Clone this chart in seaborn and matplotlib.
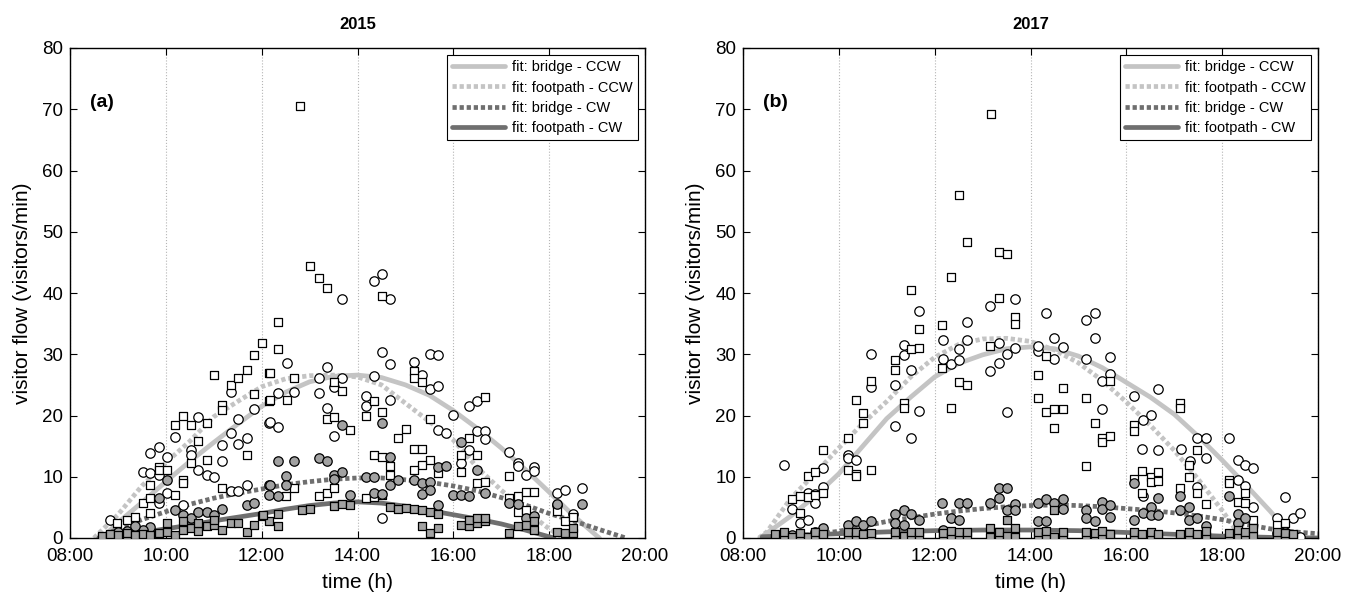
import numpy as np
import pandas as pd
import seaborn as sns
import matplotlib.pyplot as plt

# time in decimal hours, flow in visitors/min

# ---- 2015 ----
pts15_bridge_ccw = [(8.84, 2.9), (9.52, 10.8), (9.68, 13.8), (9.85, 14.8), (9.67, 10.6), (9.85, 10.3),
    (10.02, 13.3), (9.85, 5.7), (10.02, 7.4), (10.19, 16.5), (10.35, 5.4), (10.52, 14.4), (10.52, 13.6),
    (10.68, 19.8), (10.68, 11.1), (10.85, 10.3), (11.0, 9.9), (11.18, 15.2), (11.18, 12.5), (11.35, 23.9),
    (11.35, 17.2), (11.51, 19.5), (11.51, 15.3), (11.69, 16.3), (11.84, 21.1), (12.15, 18.8), (11.35, 7.6),
    (11.51, 7.6), (11.69, 8.7), (12.53, 28.5), (12.68, 23.9), (12.35, 23.7), (12.18, 18.9), (12.35, 18.2),
    (13.36, 27.9), (13.19, 26.1), (13.19, 23.6), (13.67, 39.1), (13.67, 26.1), (13.52, 24.7), (13.36, 21.2),
    (13.52, 16.7), (14.34, 41.9), (14.51, 43.1), (14.68, 39.0), (14.51, 30.3), (14.68, 28.4), (14.34, 26.5),
    (14.18, 23.2), (14.18, 21.6), (14.68, 22.5), (15.17, 28.8), (15.52, 30.1), (15.68, 29.8), (15.35, 26.6),
    (15.52, 24.4), (15.68, 24.8), (16.0, 20.1), (15.68, 17.6), (15.85, 17.2), (14.51, 3.2), (16.33, 21.6),
    (16.5, 22.3), (16.5, 17.4), (16.67, 17.5), (16.67, 16.1), (16.33, 14.4), (16.17, 12.2), (17.17, 14.1),
    (17.34, 12.2), (17.34, 11.8), (17.52, 10.3), (17.68, 11.6), (17.68, 11.0), (18.16, 7.3), (18.33, 7.9),
    (18.68, 8.2), (18.16, 5.4), (18.5, 4.0)]

pts15_foot_ccw = [(8.99, 2.5), (9.18, 2.9), (9.35, 3.5), (9.52, 5.7), (9.68, 6.6), (9.68, 4.1), (9.85, 11.6),
    (9.85, 11.1), (10.02, 11.1), (9.68, 8.7), (10.19, 18.4), (10.35, 19.9), (10.52, 18.4), (10.85, 18.7),
    (10.68, 15.9), (10.52, 12.2), (10.85, 12.8), (10.35, 9.4), (10.35, 8.9), (10.19, 7.0), (11.0, 26.6),
    (11.18, 21.7), (11.18, 20.9), (11.35, 25.0), (11.51, 26.1), (11.69, 27.4), (11.84, 29.9), (12.0, 31.8),
    (11.84, 23.5), (11.69, 13.6), (12.15, 27.0), (12.15, 22.4), (11.18, 8.1), (12.8, 70.5), (13.01, 44.4),
    (13.19, 42.5), (13.36, 40.8), (12.35, 35.3), (12.35, 30.9), (12.18, 27.0), (12.68, 26.2), (12.18, 22.5),
    (12.53, 22.6), (13.52, 25.4), (13.67, 24.0), (13.36, 19.5), (13.52, 19.7), (13.84, 17.7), (14.51, 39.5),
    (15.17, 27.2), (15.17, 26.1), (15.35, 25.4), (14.34, 22.4), (14.18, 19.9), (14.51, 20.5), (14.84, 16.3),
    (15.01, 17.8), (15.52, 19.5), (15.17, 14.5), (15.35, 14.5), (14.34, 13.6), (14.51, 13.3), (14.68, 11.8),
    (14.68, 10.3), (15.52, 12.8), (15.35, 11.9), (15.17, 11.1), (15.68, 10.6), (12.51, 6.9), (12.68, 8.1),
    (13.19, 6.9), (13.36, 7.4), (13.52, 8.1), (14.18, 6.5), (14.34, 6.7), (14.51, 7.0), (16.33, 16.3),
    (16.17, 13.6), (16.17, 10.8), (16.5, 13.6), (16.5, 8.9), (16.67, 9.1), (16.67, 23.1), (17.17, 10.1),
    (17.17, 6.5), (17.34, 6.9), (17.52, 7.5), (17.68, 7.5), (17.34, 4.3), (17.52, 4.5), (18.16, 4.4),
    (18.33, 2.8), (18.5, 3.5)]

pts15_bridge_cw = [(10.02, 9.4), (10.19, 4.6), (10.35, 3.8), (10.52, 3.2), (10.68, 4.2), (10.85, 4.2),
    (11.0, 3.8), (11.18, 4.8), (11.69, 5.4), (11.84, 5.7), (12.15, 8.7), (12.15, 7.0), (9.68, 1.8), (9.52, 1.3),
    (9.85, 6.5), (12.35, 12.6), (12.68, 12.5), (13.19, 13.0), (13.36, 12.5), (12.51, 10.1), (12.18, 8.7),
    (12.35, 6.9), (12.51, 8.7), (13.52, 10.3), (13.67, 10.7), (13.52, 9.7), (14.18, 9.9), (14.34, 10.0),
    (14.68, 13.3), (14.68, 8.7), (14.34, 7.3), (14.51, 7.2), (14.84, 9.5), (15.17, 9.5), (15.35, 8.9),
    (15.52, 9.2), (15.68, 11.6), (15.85, 11.8), (15.35, 7.2), (15.52, 7.8), (16.0, 7.0), (15.68, 5.4),
    (14.51, 18.7), (13.67, 18.4), (16.17, 15.7), (16.5, 11.1), (16.17, 7.1), (16.33, 6.9), (16.67, 7.4),
    (17.17, 5.7), (17.34, 5.6), (18.68, 5.6), (18.16, 5.5), (17.52, 3.2), (17.68, 3.6), (13.84, 7.0),
    (9.0, 1.0), (9.18, 1.2), (9.35, 2.0)]

pts15_foot_cw = [(8.67, 0.1), (8.67, 0.4), (8.84, 0.2), (8.84, 0.6), (9.0, 0.5), (9.18, 0.2), (9.18, 0.8),
    (9.35, 0.5), (9.52, 0.7), (9.68, 0.5), (9.85, 0.8), (10.02, 0.9), (10.19, 0.5), (10.35, 1.3), (10.52, 1.6),
    (10.68, 1.1), (10.85, 1.9), (11.0, 2.1), (11.18, 1.3), (11.35, 2.4), (11.51, 2.4), (11.69, 1.0),
    (11.84, 2.1), (12.0, 3.6), (12.15, 2.7), (10.02, 2.5), (10.35, 2.8), (10.68, 2.4), (11.0, 3.0),
    (12.35, 1.9), (12.03, 3.8), (12.35, 3.9), (12.84, 4.5), (13.01, 4.7), (13.52, 5.2), (13.67, 5.5),
    (13.84, 5.4), (14.68, 5.0), (14.84, 4.8), (15.01, 4.9), (15.17, 4.8), (15.35, 4.5), (15.35, 1.9),
    (15.52, 0.8), (15.68, 1.6), (15.52, 4.2), (15.68, 4.0), (16.17, 2.1), (16.33, 1.9), (16.5, 2.4),
    (16.67, 2.7), (16.33, 3.0), (16.5, 3.2), (16.67, 3.2), (17.17, 0.8), (17.34, 1.9), (17.52, 2.1),
    (17.68, 1.3), (17.68, 2.7), (18.16, 1.0), (18.33, 0.8), (18.5, 0.8), (18.5, 1.7)]

fit15_bridge_ccw = [(8.67, 0), (9.0, 2.5), (9.5, 5.8), (10.0, 9.2), (10.5, 12.5), (11.0, 15.6), (11.5, 18.6),
    (12.0, 21.5), (12.5, 23.8), (13.0, 25.5), (13.5, 26.4), (14.0, 26.6), (14.5, 26.2), (15.0, 25.0),
    (15.5, 23.3), (16.0, 20.8), (16.5, 17.9), (17.0, 14.7), (17.5, 11.2), (18.0, 7.5), (18.5, 3.7),
    (19.0, 0.3), (19.05, 0)]
fit15_foot_ccw = [(8.5, 0), (9.0, 3.8), (9.5, 8.5), (10.0, 12.3), (10.5, 15.8), (11.0, 19.8), (11.5, 22.3),
    (12.0, 24.7), (12.5, 26.0), (13.0, 26.5), (13.5, 26.6), (14.0, 26.3), (14.5, 25.0), (15.0, 22.0),
    (15.5, 19.0), (16.0, 16.0), (16.5, 11.5), (17.0, 7.8), (17.5, 4.5), (18.0, 1.5), (18.3, 0)]
fit15_bridge_cw = [(8.6, 0), (9.0, 1.5), (9.5, 3.0), (10.0, 4.3), (10.5, 5.5), (11.0, 6.5), (11.5, 7.3),
    (12.0, 8.0), (12.5, 8.7), (13.0, 9.2), (13.5, 9.6), (14.0, 9.8), (14.5, 9.8), (15.0, 9.5), (15.5, 9.1),
    (16.0, 8.5), (16.5, 7.7), (17.0, 6.6), (17.5, 5.4), (18.0, 4.0), (18.5, 2.8), (19.0, 1.5), (19.6, 0)]
fit15_foot_cw = [(8.6, 0), (9.0, 0.4), (9.5, 0.9), (10.0, 1.5), (10.5, 2.1), (11.0, 2.8), (11.5, 3.4),
    (12.0, 4.0), (12.5, 4.7), (13.0, 5.3), (13.5, 5.7), (14.0, 5.9), (14.5, 5.7), (15.0, 5.2), (15.5, 4.5),
    (16.0, 3.8), (16.5, 3.1), (17.0, 2.3), (17.5, 1.3), (18.0, 0.2), (18.1, 0)]

# ---- 2017 ----
pts17_bridge_ccw = [(8.85, 11.9), (9.02, 4.7), (9.18, 2.5), (9.35, 2.9), (9.35, 7.3), (9.51, 7.2), (9.51, 5.7),
    (9.68, 8.4), (9.68, 11.4), (10.19, 13.6), (10.19, 13.0), (10.35, 12.7), (10.67, 30.0), (10.67, 24.7),
    (11.18, 25.0), (11.18, 18.3), (11.35, 31.5), (11.35, 29.9), (11.51, 27.4), (11.51, 16.3), (11.68, 37.0),
    (11.68, 20.7), (12.18, 32.3), (12.18, 29.2), (12.34, 28.4), (12.51, 29.1), (12.51, 30.8), (12.68, 32.3),
    (12.68, 35.2), (13.16, 37.8), (13.16, 27.3), (13.34, 28.5), (13.51, 30.0), (13.67, 31.0), (13.67, 39.0),
    (13.34, 31.8), (13.51, 20.6), (14.33, 36.8), (14.5, 32.6), (14.67, 31.2), (14.16, 30.6), (14.5, 29.2),
    (14.16, 31.3), (15.16, 35.6), (15.34, 36.8), (15.34, 32.6), (15.16, 29.2), (15.66, 29.6), (15.66, 26.7),
    (15.5, 25.7), (15.5, 21.1), (16.16, 23.2), (16.66, 24.3), (16.51, 20.1), (16.34, 19.3), (16.32, 14.6),
    (16.66, 14.4), (17.15, 14.5), (17.48, 16.4), (17.66, 16.4), (17.32, 12.6), (17.66, 13.0), (18.14, 16.3),
    (18.32, 12.8), (18.48, 11.9), (18.65, 11.5), (18.32, 9.4), (18.48, 8.5), (18.65, 5.1), (19.32, 6.7),
    (19.15, 3.2), (19.47, 3.2), (19.63, 4.1), (19.63, 0.1), (17.48, 8.4), (16.34, 6.9)]

pts17_foot_ccw = [(9.02, 6.3), (9.18, 6.9), (9.35, 6.7), (9.51, 7.0), (9.68, 7.4), (9.35, 10.1), (9.51, 10.7),
    (9.68, 14.3), (9.18, 4.1), (10.19, 16.4), (10.19, 11.1), (10.35, 10.4), (10.35, 10.2), (10.67, 11.1),
    (10.35, 22.6), (10.51, 20.4), (10.51, 18.8), (10.67, 25.7), (11.18, 29.0), (11.18, 27.5), (11.35, 22.0),
    (11.35, 21.2), (11.51, 40.5), (11.51, 30.8), (11.68, 31.1), (11.68, 34.1), (12.15, 34.8), (12.15, 27.8),
    (12.51, 56.0), (12.68, 48.4), (12.34, 42.6), (13.34, 46.7), (13.51, 46.4), (13.34, 39.2), (13.67, 36.1),
    (13.67, 34.9), (12.51, 25.5), (12.68, 25.0), (12.34, 21.3), (13.16, 31.3), (13.17, 69.3), (14.16, 26.6),
    (14.33, 29.7), (14.16, 22.8), (14.33, 20.6), (14.5, 21.0), (14.67, 21.0), (14.5, 18.0), (14.67, 24.5),
    (15.16, 22.8), (15.34, 18.7), (15.5, 16.3), (15.5, 15.7), (15.66, 16.7), (15.16, 11.8), (15.66, 25.7),
    (17.13, 22.0), (17.13, 21.2), (16.16, 18.4), (16.16, 17.5), (16.32, 10.9), (16.51, 10.0), (16.66, 10.8),
    (16.51, 9.2), (16.66, 9.3), (16.16, 9.6), (16.32, 7.4), (17.48, 14.4), (17.31, 10.0), (17.31, 11.9),
    (17.13, 8.2), (17.48, 7.3), (17.66, 5.5), (18.14, 9.5), (18.14, 8.9), (18.48, 7.4), (18.32, 5.8),
    (18.48, 5.7), (18.65, 3.0), (19.15, 2.1), (19.32, 2.4)]

pts17_bridge_cw = [(10.19, 2.2), (10.35, 2.7), (10.51, 2.1), (10.67, 2.7), (11.18, 3.9), (11.35, 4.6),
    (11.51, 3.9), (11.68, 3.0), (11.18, 2.4), (11.35, 2.1), (12.15, 5.7), (9.51, 1.0), (9.68, 1.7),
    (12.51, 5.7), (12.68, 5.7), (13.16, 5.7), (13.34, 8.1), (13.51, 8.2), (13.34, 6.5), (13.67, 5.6),
    (13.51, 4.6), (13.67, 4.6), (12.34, 3.2), (12.51, 3.0), (14.16, 5.7), (14.33, 6.3), (14.5, 5.7),
    (14.67, 6.3), (14.67, 4.7), (14.16, 2.8), (14.33, 2.7), (15.16, 4.5), (15.16, 3.2), (15.34, 2.7),
    (15.5, 5.8), (15.5, 4.8), (15.66, 5.4), (15.66, 3.4), (16.16, 8.9), (16.66, 6.5), (16.16, 2.9),
    (16.34, 4.1), (16.51, 5.1), (16.51, 3.8), (16.66, 3.8), (17.13, 6.9), (17.13, 4.6), (17.31, 2.9),
    (17.48, 3.2), (17.31, 5.1), (17.66, 1.9), (18.14, 6.9), (18.32, 4.0), (18.32, 2.4), (18.48, 3.2),
    (19.15, 0.8), (19.32, 1.0), (12.18, 1.3), (9.02, 0.5), (8.85, 0.4)]

pts17_foot_cw = [(8.67, 0.1), (8.67, 0.7), (8.85, 0.2), (8.85, 0.9), (9.02, 0.1), (9.18, 0.3), (9.18, 0.8),
    (9.35, 0.1), (9.51, 0.4), (9.51, 0.9), (9.68, 0.2), (9.68, 0.7), (10.19, 0.1), (10.19, 0.9), (10.35, 0.3),
    (10.35, 1.0), (10.51, 0.2), (10.51, 0.6), (10.67, 0.1), (10.67, 0.8), (11.18, 0.2), (11.18, 0.9),
    (11.35, 0.4), (11.51, 0.1), (11.51, 1.0), (11.68, 0.3), (11.68, 0.9), (12.18, 0.1), (12.18, 0.8),
    (12.34, 0.2), (12.34, 1.1), (12.51, 0.1), (12.51, 0.9), (12.68, 0.3), (12.68, 1.0), (13.16, 0.2),
    (13.16, 1.7), (13.34, 0.1), (13.34, 1.0), (13.51, 0.4), (13.51, 2.9), (13.67, 0.2), (13.67, 1.6),
    (14.16, 0.1), (14.16, 0.9), (14.33, 0.3), (14.33, 1.1), (14.5, 0.2), (14.5, 4.6), (14.67, 0.1),
    (14.67, 1.0), (15.16, 0.2), (15.16, 0.9), (15.34, 0.1), (15.34, 0.8), (15.5, 0.3), (15.5, 1.2),
    (15.66, 0.1), (15.66, 0.7), (16.16, 0.1), (16.16, 0.9), (16.32, 0.2), (16.32, 0.7), (16.51, 0.1),
    (16.51, 0.9), (16.66, 0.1), (16.66, 0.6), (17.13, 0.1), (17.13, 0.7), (17.31, 0.2), (17.31, 1.0),
    (17.48, 0.1), (17.48, 0.6), (17.66, 0.3), (17.66, 1.1), (18.14, 0.1), (18.14, 0.8), (18.32, 0.2),
    (18.32, 1.3), (18.48, 0.1), (18.48, 0.9), (18.65, 0.4), (18.65, 1.6), (19.15, 0.1), (19.15, 0.9),
    (19.32, 0.2), (19.32, 0.8), (19.47, 0.1), (19.47, 0.6)]

fit17_bridge_ccw = [(8.35, 0), (8.5, 0.8), (9.0, 3.6), (9.5, 6.8), (10.0, 10.5), (10.5, 15.0), (11.0, 19.5),
    (11.5, 23.0), (12.0, 26.3), (12.5, 28.5), (13.0, 29.9), (13.5, 30.9), (14.0, 31.2), (14.5, 30.9),
    (15.0, 29.7), (15.5, 27.8), (16.0, 25.4), (16.5, 23.0), (17.0, 20.2), (17.5, 16.6), (18.0, 12.7),
    (18.5, 8.6), (19.0, 4.4), (19.4, 0.8), (19.5, 0)]
fit17_foot_ccw = [(8.33, 0), (8.5, 1.0), (9.0, 6.5), (9.5, 10.5), (10.0, 14.7), (10.5, 18.7), (11.0, 22.3),
    (11.5, 26.3), (12.0, 29.5), (12.5, 31.6), (13.0, 32.5), (13.5, 32.6), (14.0, 32.1), (14.5, 30.7),
    (15.0, 28.6), (15.5, 25.7), (16.0, 22.2), (16.5, 18.4), (17.0, 14.3), (17.5, 9.6), (18.0, 4.5), (18.4, 0)]
fit17_bridge_cw = [(8.4, 0), (9.0, 0.3), (9.5, 0.6), (10.0, 1.1), (10.5, 1.9), (11.0, 2.7), (11.5, 3.3),
    (12.0, 3.9), (12.5, 4.4), (13.0, 4.8), (13.5, 5.1), (14.0, 5.3), (14.5, 5.4), (15.0, 5.3), (15.5, 5.1),
    (16.0, 4.8), (16.5, 4.5), (17.0, 4.1), (17.5, 3.6), (18.0, 3.0), (18.5, 2.2), (19.0, 1.5), (19.5, 1.0),
    (20.0, 0.7)]
fit17_foot_cw = [(8.4, 0.2), (9.0, 0.4), (10.0, 0.7), (11.0, 1.0), (12.0, 1.2), (13.0, 1.3), (14.0, 1.3),
    (15.0, 1.2), (16.0, 0.9), (17.0, 0.6), (18.0, 0.3), (19.0, 0.1), (20.0, 0)]

fit_labels = ["fit: bridge - CCW", "fit: footpath - CCW", "fit: bridge - CW", "fit: footpath - CW"]
xticks = [8, 10, 12, 14, 16, 18, 20]
xticklabels = ["08:00", "10:00", "12:00", "14:00", "16:00", "18:00", "20:00"]

LIGHT = "#c4c4c4"
DARK = "#6f6f6f"
FILL = "#a2a2a2"
DOT = (0, (0.9, 0.6))

sns.set_theme(style="ticks")
plt.rcParams['font.family'] = ['Liberation Sans', 'DejaVu Sans']
plt.rcParams['text.color'] = 'black'
plt.rcParams['axes.labelcolor'] = 'black'
plt.rcParams['xtick.color'] = 'black'
plt.rcParams['ytick.color'] = 'black'


def panel(ax, title, tag, fits, pts):
    styles = [(LIGHT, "-"), (LIGHT, DOT), (DARK, DOT), (DARK, "-")]
    for data, label, (col, ls) in zip(fits, fit_labels, styles):
        df = pd.DataFrame(data, columns=["t", "v"])
        sns.lineplot(data=df, x="t", y="v", ax=ax, color=col, linestyle=ls, lw=3.4,
                     label=label, estimator=None, sort=False, zorder=2)
    marks = [("o", "white", 46), ("s", "white", 34), ("o", FILL, 46), ("s", FILL, 34)]
    for data, (m, face, size) in zip(pts, marks):
        df = pd.DataFrame(data, columns=["t", "v"])
        sns.scatterplot(data=df, x="t", y="v", ax=ax, marker=m, color=face, edgecolor="black",
                        linewidth=0.9, s=size, zorder=3, legend=False)
    ax.set_xlim(8, 20)
    ax.set_ylim(0, 80)
    ax.set_xticks(xticks)
    ax.set_xticklabels(xticklabels)
    ax.set_yticks(range(0, 81, 10))
    ax.tick_params(direction="in", top=True, right=True, length=5, width=0.8, labelsize=13.5)
    ax.tick_params(axis="x", pad=7)
    ax.tick_params(axis="y", pad=5)
    ax.grid(axis="x", color="#b5b5b5", linestyle=":", linewidth=0.8)
    for sp in ax.spines.values():
        sp.set_visible(True)
        sp.set_color("black")
        sp.set_linewidth(1.0)
    ax.set_xlabel("time (h)", fontsize=15, labelpad=6)
    ax.set_ylabel("visitor flow (visitors/min)", fontsize=15, labelpad=7)
    ax.set_title(title, fontsize=12, fontweight="bold", pad=14)
    ax.text(0.035, 0.88, tag, transform=ax.transAxes, fontsize=14, fontweight="bold")
    leg = ax.legend(loc="upper right", fontsize=10.5, frameon=True, fancybox=False, edgecolor="black",
                    framealpha=1, handlelength=3.6, borderaxespad=0.5, labelspacing=0.42,
                    borderpad=0.35, handletextpad=0.5)
    leg.get_frame().set_linewidth(0.8)


fig = plt.figure(figsize=(13.57, 6), dpi=100)
ax1 = fig.add_axes([70 / 1357, 62 / 600, 575 / 1357, 490 / 600])
ax2 = fig.add_axes([743 / 1357, 62 / 600, 575 / 1357, 490 / 600])

panel(ax1, "2015", "(a)",
      [fit15_bridge_ccw, fit15_foot_ccw, fit15_bridge_cw, fit15_foot_cw],
      [pts15_bridge_ccw, pts15_foot_ccw, pts15_bridge_cw, pts15_foot_cw])
panel(ax2, "2017", "(b)",
      [fit17_bridge_ccw, fit17_foot_ccw, fit17_bridge_cw, fit17_foot_cw],
      [pts17_bridge_ccw, pts17_foot_ccw, pts17_bridge_cw, pts17_foot_cw])

fig.savefig("out.png", dpi=100)
